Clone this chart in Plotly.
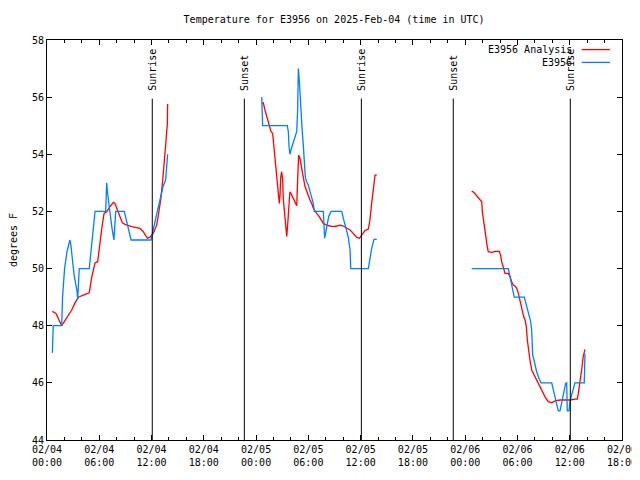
import plotly.graph_objects as go

# ---- data ----
an_d1_t = ["00:37","01:02","01:41","02:27","02:50","03:13","03:36","04:22","04:51","05:08",
           "05:31","05:49","06:05","06:17","06:33","06:51","07:14","07:37","07:48","08:23",
           "08:39","08:57","09:43","10:40","11:03","11:31","11:49","12:12","12:35","12:47",
           "13:03","13:17","13:33","13:40","13:49","13:51"]
an_d1_v = [48.5,48.43,48.0,48.37,48.55,48.8,49.0,49.1,49.15,49.7,
           50.2,50.24,50.94,51.4,51.93,51.99,52.17,52.32,52.28,51.82,
           51.6,51.55,51.47,51.41,51.29,51.06,51.1,51.23,51.52,51.87,
           52.4,53.1,53.9,54.5,55.08,55.76]

ob_d1_t = ["00:37","00:43","01:41","01:47","02:01","02:18","02:38","02:45","03:06","03:27",
           "03:31","03:42","04:51","05:31","06:44","06:51","06:58","07:14","07:28","07:41",
           "07:53","08:52","09:39","11:56","12:19","12:35","12:58","13:21","13:37","13:44",
           "13:51"]
ob_d1_v = [47.05,48,48,49,50,50.6,51,50.8,49.8,49.2,
           48.9,50,50,52,52,53,52.6,51.9,51.4,51,
           52,52,51,51,51.6,51.9,52.4,52.9,53.1,53.6,
           54]

an_d2_t = ["00:39","00:50","01:01","01:17","01:31","01:43","01:54","02:03","02:10","02:17",
           "02:26","02:33","02:40","02:45","02:49","02:56","03:03","03:07","03:14","03:24",
           "03:31","03:38","03:47","03:53","04:05","04:16","04:28","04:40","04:46","04:53",
           "05:02","05:09","05:18","05:25","05:37","05:48","06:00","06:11","06:23","06:34",
           "06:57","07:15","07:43","08:06","08:29","08:52","09:15","09:38","10:01","10:24",
           "10:47","11:09","11:33","11:51","12:07","12:30","12:53","13:04","13:16","13:27",
           "13:39","13:51"]
an_d2_v = [55.78,55.8,55.55,55.26,54.97,54.79,54.73,54.27,53.86,53.51,
           52.87,52.52,52.28,52.58,53.16,53.39,53.1,52.46,52.05,51.7,
           51.12,51.58,52.28,52.69,52.58,52.46,52.34,52.2,53.1,53.97,
           53.86,53.62,53.39,53.2,52.87,52.69,52.58,52.4,52.28,52.11,
           51.93,51.82,51.58,51.52,51.49,51.47,51.49,51.52,51.49,51.41,
           51.35,51.23,51.09,51.06,51.17,51.33,51.38,51.7,52.28,52.81,
           53.27,53.27]

ob_d2_t = ["00:39","00:40","00:45","03:35","03:42","03:47","03:53","04:00","04:09","04:23",
           "04:40","04:46","04:51","04:58","05:02","05:07","05:14","05:18","05:25","05:32",
           "05:39","05:48","06:00","06:11","06:23","06:34","06:41","07:43","07:52","08:06",
           "08:20","08:36","09:50","10:01","10:19","10:35","10:47","10:52","12:53","13:04",
           "13:16","13:32","13:51"]
ob_d2_v = [56.0,55.5,55.0,55.0,54.79,54.27,54.0,54.15,54.3,54.56,
           54.8,55.55,57.0,56.54,56.13,55.78,55.26,54.79,54.33,53.8,
           53.2,53.04,52.92,52.7,52.52,52.28,52.0,52.0,51.06,51.41,
           51.82,52.0,52.0,51.76,51.41,51.1,50.65,50.0,50.0,50.36,
           50.71,51.02,51.02]

an_d3_t = ["00:45","01:01","01:14","01:30","01:47","01:54","01:58","02:05","02:16","02:23",
           "02:32","02:39","03:03","03:25","03:55","04:04","04:11","04:22","04:29","04:34",
           "04:57","05:09","05:20","05:31","05:43","05:55","06:06","06:13","06:22","06:33",
           "06:43","06:52","07:01","07:08","07:17","07:26","07:38","08:01","08:23","08:47",
           "09:10","09:32","09:56","10:18","10:53","11:27","12:02","12:36","12:52","12:59",
           "13:11","13:22","13:33","13:45"]
an_d3_v = [52.71,52.66,52.58,52.49,52.4,52.34,51.99,51.7,51.35,50.94,
           50.77,50.59,50.57,50.6,50.6,50.47,50.24,50.06,49.92,49.83,
           49.83,49.72,49.54,49.42,49.39,49.31,49.13,48.96,48.72,48.43,
           48.31,48.2,47.97,47.5,47.09,46.8,46.45,46.21,45.98,45.75,
           45.51,45.34,45.3,45.37,45.4,45.4,45.4,45.43,45.43,45.63,
           45.98,46.45,46.92,47.17]

ob_d3_t = ["00:45","04:57","05:04","05:13","05:20","05:31","05:38","06:47","06:57","07:08",
           "07:19","07:31","07:38","07:45","07:54","08:01","08:12","08:28","08:42","09:56",
           "10:07","10:18","10:30","10:41","10:53","11:05","11:16","11:32","11:39","11:43",
           "11:55","12:02","12:13","12:24","12:36","13:40","13:45"]
ob_d3_v = [50,50,49.83,49.6,49.37,49.13,49,49,48.79,48.55,
           48.31,48.14,47.85,46.97,46.8,46.63,46.39,46.16,46,46,
           45.75,45.46,45.22,45.02,45.02,45.34,45.69,45.98,46,45.02,
           45.02,45.34,45.57,45.75,46,46,47.03]

days = ["2025-02-04", "2025-02-05", "2025-02-06"]
sunrise_times = ["2025-02-04 12:05", "2025-02-05 12:05", "2025-02-06 12:04"]
sunset_times = ["2025-02-04 22:39", "2025-02-05 22:38"]

def join(day_lists):
    xs, ys = [], []
    for day, (ts, vs) in zip(days, day_lists):
        if xs:
            xs.append(None); ys.append(None)
        xs += [f"{day} {t}" for t in ts]
        ys += vs
    return xs, ys

an_x, an_y = join([(an_d1_t, an_d1_v), (an_d2_t, an_d2_v), (an_d3_t, an_d3_v)])
ob_x, ob_y = join([(ob_d1_t, ob_d1_v), (ob_d2_t, ob_d2_v), (ob_d3_t, ob_d3_v)])

RED = "#ff0000"
BLUE = "#0080ff"
FONT = "DejaVu Sans Mono"

fig = go.Figure()
fig.add_trace(go.Scatter(x=an_x, y=an_y, mode="lines", name="E3956 Analysis",
                         line=dict(color=RED, width=1.3), connectgaps=False, showlegend=False))
fig.add_trace(go.Scatter(x=ob_x, y=ob_y, mode="lines", name="E3956",
                         line=dict(color=BLUE, width=1.3), connectgaps=False, showlegend=False))

shapes = []
annotations = []
for label, times in (("Sunrise", sunrise_times), ("Sunset", sunset_times)):
    for t in times:
        shapes.append(dict(type="line", xref="x", yref="y", x0=t, x1=t, y0=44, y1=55.95,
                           line=dict(color="black", width=1)))
        annotations.append(dict(x=t, y=56.16, xref="x", yref="y", text=label, textangle=-90,
                                showarrow=False, xanchor="center", yanchor="bottom",
                                font=dict(family=FONT, size=10, color="black")))

# manual gnuplot-style key (text left of sample line)
for name, color, ypos in (("E3956 Analysis", RED, 0.976), ("E3956", BLUE, 0.944)):
    annotations.append(dict(x=0.916, y=ypos, xref="paper", yref="paper", text=name,
                            showarrow=False, xanchor="right", yanchor="middle",
                            font=dict(family=FONT, size=10, color="black")))
    shapes.append(dict(type="line", xref="paper", yref="paper", x0=0.930, x1=0.979,
                       y0=ypos, y1=ypos, line=dict(color=color, width=1.3)))

fig.update_layout(
    width=632, height=472,
    margin=dict(l=39, r=18, t=32, b=40, autoexpand=False),
    paper_bgcolor="white", plot_bgcolor="white",
    font=dict(family=FONT, size=10, color="black"),
    title=dict(text="Temperature for E3956 on 2025-Feb-04 (time in UTC)",
               x=0.516, xanchor="center", y=0.975, yanchor="middle",
               font=dict(family=FONT, size=10, color="black")),
    shapes=shapes, annotations=annotations, showlegend=False,
)
fig.update_xaxes(
    type="date", range=["2025-02-04 00:00", "2025-02-06 18:00"],
    tick0="2025-02-04 00:00", dtick=6 * 3600 * 1000, tickformat="%m/%d<br>%H:%M",
    ticks="inside", ticklen=5, tickcolor="black", showline=True, linecolor="black",
    linewidth=1, mirror="ticks", showgrid=False, zeroline=False, automargin=False,
    minor=dict(dtick=2 * 3600 * 1000, ticks="inside", ticklen=3, tickcolor="black", showgrid=False),
    tickfont=dict(family=FONT, size=10),
)
fig.update_yaxes(
    range=[44, 58], dtick=2, tick0=44, ticks="inside", ticklen=5, tickcolor="black",
    showline=True, linecolor="black", linewidth=1, mirror="ticks", showgrid=False,
    zeroline=False, automargin=False,
    title=dict(text="degrees F", font=dict(family=FONT, size=10), standoff=14),
    tickfont=dict(family=FONT, size=10),
)

fig.write_html("out.html")
